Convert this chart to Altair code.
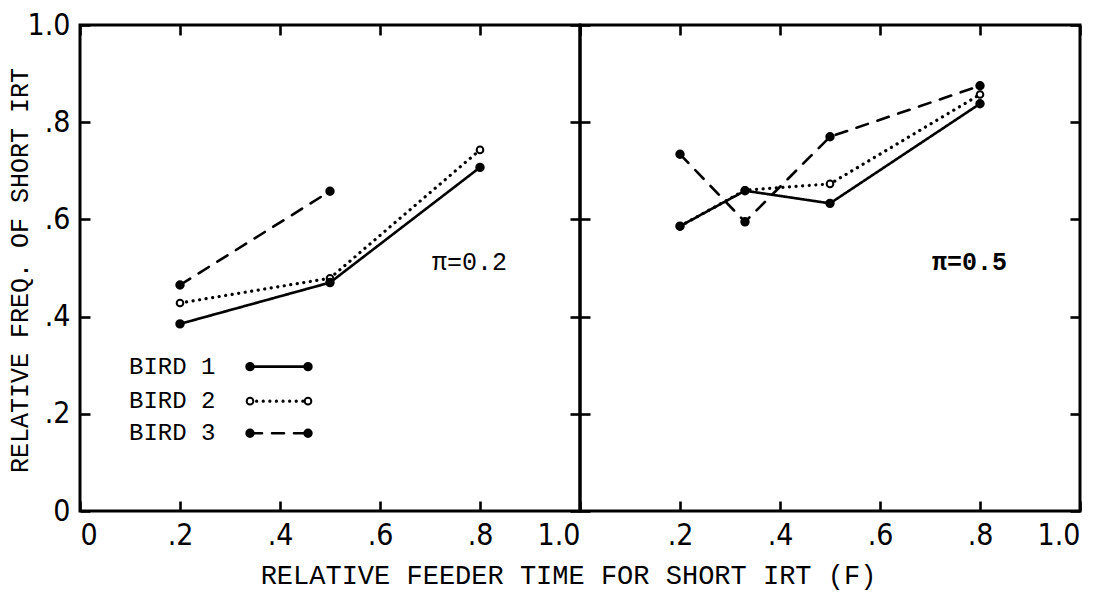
import altair as alt
import pandas as pd

BIRDS = ["BIRD 1", "BIRD 2", "BIRD 3"]

# Left panel (pi = 0.2): relative feeder time F and relative frequency of short IRT
L_F_B1 = [0.2, 0.5, 0.8]
L_REL_B1 = [0.385, 0.470, 0.707]
L_F_B2 = [0.2, 0.5, 0.8]
L_REL_B2 = [0.428, 0.479, 0.743]
L_F_B3 = [0.2, 0.5]
L_REL_B3 = [0.465, 0.658]

# Right panel (pi = 0.5)
R_F = [0.2, 0.33, 0.5, 0.8]
R_REL_B1 = [0.586, 0.659, 0.633, 0.838]
R_REL_B2 = [0.586, 0.660, 0.673, 0.857]
R_REL_B3 = [0.734, 0.595, 0.770, 0.875]

PANEL_TEXT = ["\u03c0=0.2", "\u03c0=0.5"]
AXIS_VALUES = [0.0, 0.2, 0.4, 0.6, 0.8, 1.0]
TICK_LABELS = ["0", ".2", ".4", ".6", ".8", "1.0"]
X_TITLE = "RELATIVE FEEDER TIME FOR SHORT IRT (F)"
Y_TITLE = "RELATIVE FREQ. OF SHORT IRT"

# annotation anchors (data units)
LEG_F = [0.34, 0.456]
LEG_REL = [0.297, 0.226, 0.160]
LEG_TEXT_F = 0.098
PI_F = 0.704
PI_REL = 0.513

MONO = "Liberation Mono, DejaVu Sans Mono, monospace"
NARROW = "Liberation Sans Narrow, DejaVu Sans Condensed, sans-serif"

DASHES = [[1, 0], [0.1, 6.5], [12, 10]]
WIDTHS = [2.6, 3.2, 2.6]
FILLS = ["black", "white", "black"]
SIZES = [55, 44, 55]

label_expr = ""
for v, l in zip(AXIS_VALUES, TICK_LABELS):
    label_expr += f"abs(datum.value - {v}) < 0.01 ? '{l}' : "
label_expr += "''"


def build(fs_list, rel_list, pi_text, with_legend):
    rows = []
    for b, fs, rs in zip(BIRDS, fs_list, rel_list):
        for f, r in zip(fs, rs):
            rows.append(dict(kind="data", bird=b, grp=b + "-d", f=f, rel=r, label=""))
    if with_legend:
        for b, r in zip(BIRDS, LEG_REL):
            for f in LEG_F:
                rows.append(dict(kind="legend", bird=b, grp=b + "-l", f=f, rel=r, label=""))
            rows.append(dict(kind="legtext", bird=b, grp="", f=LEG_TEXT_F, rel=r, label=b))
    rows.append(dict(kind="pi", bird="", grp="", f=PI_F, rel=PI_REL, label=pi_text))
    return pd.DataFrame(rows)


XS = alt.Scale(domain=[0, 1], nice=False, zero=False)
YS = alt.Scale(domain=[0, 1], nice=False, zero=False)

TS = 10
W = 500
H = 486


def axis(orient, values, labels, **kw):
    d = dict(orient=orient, values=values, labels=labels, ticks=True, tickSize=TS,
             offset=-TS, domain=False, grid=False)
    if labels:
        d["labelExpr"] = label_expr
    d.update(kw)
    if "title" not in d:
        d["title"] = None
    return alt.Axis(**d)


def panel(df, x_ax, y_ax, top_ax, right_ax, pi_weight):
    base = alt.Chart(df).encode(
        x=alt.X("f:Q", scale=XS, axis=x_ax),
        y=alt.Y("rel:Q", scale=YS, axis=y_ax),
    )
    series = "datum.kind == 'data' || datum.kind == 'legend'"
    lines = base.transform_filter(series).mark_line(
        color="black", strokeCap="round"
    ).encode(
        strokeDash=alt.StrokeDash("bird:N", scale=alt.Scale(domain=BIRDS, range=DASHES), legend=None),
        strokeWidth=alt.StrokeWidth("bird:N", scale=alt.Scale(type="ordinal", domain=BIRDS, range=WIDTHS), legend=None),
        detail="grp:N",
    )
    pts = base.transform_filter(series).mark_point(
        shape="circle", filled=True, stroke="black", strokeWidth=2, opacity=1
    ).encode(
        fill=alt.Fill("bird:N", scale=alt.Scale(domain=BIRDS, range=FILLS), legend=None),
        size=alt.Size("bird:N", scale=alt.Scale(type="ordinal", domain=BIRDS, range=SIZES), legend=None),
        order=alt.Order("bird:N", sort="descending"),
    )
    legtext = base.transform_filter("datum.kind == 'legtext'").mark_text(
        align="left", baseline="middle", font=MONO, fontSize=24, color="black"
    ).encode(text="label:N")
    pitext = base.transform_filter("datum.kind == 'pi'").mark_text(
        align="left", baseline="middle", font=MONO, fontSize=25, color="black",
        fontWeight=pi_weight
    ).encode(text="label:N")
    ticks = alt.Chart(df).mark_point(opacity=0).encode(
        x=alt.X("f:Q", scale=XS, axis=top_ax),
        y=alt.Y("rel:Q", scale=YS, axis=right_ax),
    )
    return alt.layer(alt.layer(lines, pts, legtext, pitext), ticks).resolve_axis(
        x="independent", y="independent"
    ).properties(width=W, height=H)


df_left = build([L_F_B1, L_F_B2, L_F_B3], [L_REL_B1, L_REL_B2, L_REL_B3], PANEL_TEXT[0], True)
df_right = build([R_F, R_F, R_F], [R_REL_B1, R_REL_B2, R_REL_B3], PANEL_TEXT[1], False)

left = panel(
    df_left,
    axis("bottom", AXIS_VALUES, True, labelPadding=9, title=X_TITLE, titleX=488, titleY=82,
         titleAlign="center", titleBaseline="alphabetic", titleFontSize=27),
    axis("left", AXIS_VALUES, True, labelPadding=10, title=Y_TITLE, titleX=-71, titleY=245,
         titleAngle=-90, titleAlign="center", titleBaseline="middle", titleFontSize=25),
    axis("top", AXIS_VALUES, False),
    axis("right", AXIS_VALUES, False),
    "normal",
)
right = panel(
    df_right,
    axis("bottom", AXIS_VALUES[1:], True, labelPadding=9),
    axis("left", AXIS_VALUES, False),
    axis("top", AXIS_VALUES, False),
    axis("right", AXIS_VALUES, False),
    "bold",
)

chart = alt.hconcat(
    left, right, spacing=0, bounds="flush",
    padding={"left": -3, "top": 0, "right": 5, "bottom": 0},
).configure(background="white").configure_view(
    stroke="black", strokeWidth=3
).configure_axis(
    labelFont=NARROW, labelFontSize=30, labelColor="black",
    tickColor="black", tickWidth=2.6,
    titleFont=MONO, titleFontWeight="normal", titleColor="black",
)

chart.save("out.html", embed_options={"renderer": "svg", "actions": False})
